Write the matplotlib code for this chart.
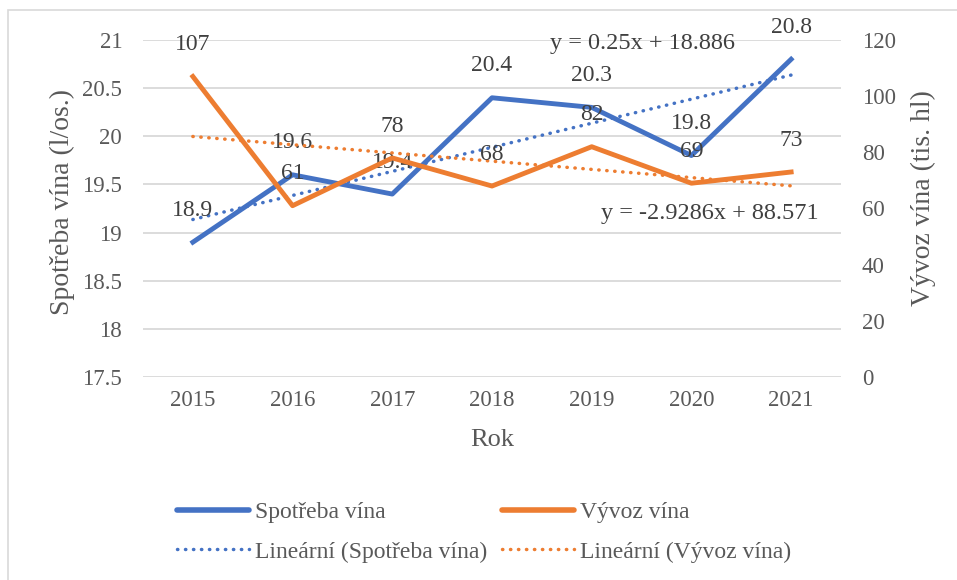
import numpy as np
import matplotlib.pyplot as plt
from matplotlib.patches import Rectangle
from matplotlib.lines import Line2D

years = ['2015', '2016', '2017', '2018', '2019', '2020', '2021']
spotreba = [18.9, 19.6, 19.4, 20.4, 20.3, 19.8, 20.8]
vyvoz = [107, 61, 78, 68, 82, 69, 73]

blue = '#4472C4'
orange = '#ED7D31'
grid_c = '#D9D9D9'
txt_c = '#595959'
lab_c = '#404040'
dots = (0, (0.1, 2.2))

plt.rcParams['font.family'] = ['Liberation Serif', 'DejaVu Serif']

W, H = 957, 580
fig = plt.figure(figsize=(W / 100, H / 100), dpi=100)

# outer chart frame
fig.patches.append(Rectangle((8 / W, -0.05), 1.2, (H - 10) / H + 0.05,
                             transform=fig.transFigure, fill=False,
                             edgecolor='#D9D9D9', linewidth=1.2))

ax = fig.add_axes([143 / W, (H - 377) / H, 698 / W, 337 / H])
ax2 = ax.twinx()

x = np.arange(1, len(years) + 1)

# trend lines from linear fit
k1, q1 = np.polyfit(x, spotreba, 1)
k2, q2 = np.polyfit(x, vyvoz, 1)

ax.plot(x, spotreba, color=blue, lw=3.5, zorder=3)
ax.plot(x, k1 * x + q1, color=blue, lw=2.5, linestyle=dots,
        dash_capstyle='round', zorder=3)
ax2.plot(x, vyvoz, color=orange, lw=3.5, zorder=3)
ax2.plot(x, k2 * x + q2, color=orange, lw=2.5, linestyle=dots,
         dash_capstyle='round', zorder=3)

ax.set_xlim(0.5, len(years) + 0.5)
ax.set_ylim(17.5, 21)
ax2.set_ylim(0, 120)
ax.set_yticks(np.arange(17.5, 21.01, 0.5))
ax.set_yticklabels(['17.5', '18', '18.5', '19', '19.5', '20', '20.5', '21'])
ax2.set_yticks(np.arange(0, 121, 20))
ax.set_xticks(x)
ax.set_xticklabels(years)

ax.grid(axis='y', color=grid_c, lw=1.3)
ax.set_axisbelow(True)
for a in (ax, ax2):
    for s in a.spines.values():
        s.set_visible(False)
    a.tick_params(length=0, labelsize=16.5, colors=txt_c)
ax.tick_params(axis='y', pad=15)
ax.tick_params(axis='x', pad=9)
ax2.tick_params(axis='y', pad=15)

ax.set_xlabel('Rok', fontsize=19, color=txt_c)
ax.xaxis.set_label_coords(0.5, -(440 - 377) / 337)
ax.xaxis.label.set_va('center')
ax.set_ylabel('Spotřeba vína (l/os.)', fontsize=20, color=txt_c)
ax.yaxis.set_label_coords((62 - 143) / 698, (377 - 202) / 337)
ax.yaxis.label.set_va('center')
ax2.set_ylabel('Vývoz vína (tis. hl)', fontsize=20, color=txt_c)
ax2.yaxis.set_label_coords((923 - 143) / 698, (377 - 198) / 337)
ax2.yaxis.label.set_va('center')

for xi, v in zip(x, spotreba):
    ax.annotate(f'{v:g}', (xi, v), xytext=(0, 23), textcoords='offset points',
                ha='center', va='center', fontsize=17, color=lab_c, zorder=5)
for xi, v in zip(x, vyvoz):
    ax2.annotate(f'{v:g}', (xi, v), xytext=(0, 23), textcoords='offset points',
                 ha='center', va='center', fontsize=17, color=lab_c, zorder=5)

ax.text((642 - 143) / 698, (377 - 43) / 337, f'y = {k1:.2f}x + {q1:.3f}',
        transform=ax.transAxes, ha='center', va='center', fontsize=17.5, color=lab_c)
ax.text((710 - 143) / 698, (377 - 213) / 337, f'y = {k2:.4f}x + {q2:.3f}',
        transform=ax.transAxes, ha='center', va='center', fontsize=17.5, color=lab_c)

handles = [
    Line2D([], [], color=blue, lw=4, solid_capstyle='round'),
    Line2D([], [], color=blue, lw=2.5, linestyle=dots, dash_capstyle='round'),
    Line2D([], [], color=orange, lw=4, solid_capstyle='round'),
    Line2D([], [], color=orange, lw=2.5, linestyle=dots, dash_capstyle='round'),
]
labels = ['Spotřeba vína', 'Lineární (Spotřeba vína)',
          'Vývoz vína', 'Lineární (Vývoz vína)']
fig.legend(handles, labels, loc='center', bbox_to_anchor=(484 / W, 1 - 532 / H),
           ncol=2, frameon=False, fontsize=17, handlelength=3.05,
           handletextpad=0.25, columnspacing=0.65, labelspacing=0.78,
           labelcolor=txt_c)

fig.savefig('out.png', dpi=100)
